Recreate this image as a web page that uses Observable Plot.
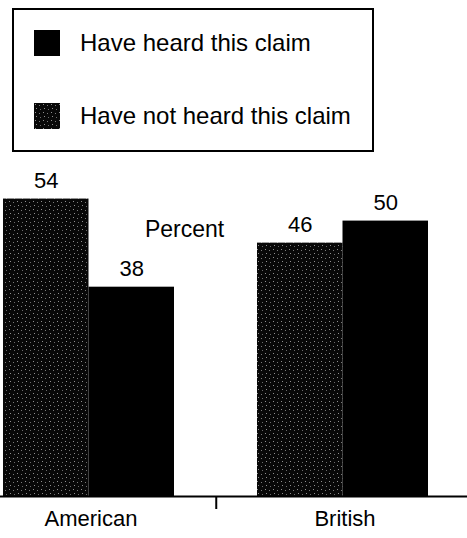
<!DOCTYPE html>
<html>
<head>
<meta charset="utf-8">
<script src="https://cdn.jsdelivr.net/npm/d3@7"></script>
<script src="https://cdn.jsdelivr.net/npm/@observablehq/plot@0.6"></script>
<style>
  html, body { margin: 0; padding: 0; background: #fff; }
  body { width: 467px; height: 538px; position: relative; overflow: hidden;
         font-family: "Liberation Sans", Arial, sans-serif; color: #000; }
  #legend { position: absolute; left: 12px; top: 8px; width: 358px; height: 140px;
            border: 2px solid #000; box-sizing: content-box; }
  .item { position: absolute; left: 20px; display: flex; align-items: center; font-size: 24px; }
  .sw { width: 26px; height: 26px; margin-right: 20px; display: block; }
  #chart { position: absolute; left: 0; top: 160px; }
</style>
</head>
<body>
<svg width="0" height="0" style="position:absolute">
  <defs>
    <pattern id="speckle" patternUnits="userSpaceOnUse" width="8" height="8">
      <rect width="8" height="8" fill="#080808"/>
      <rect x="1" y="1" width="1" height="1" fill="#8f8f8f"/>
      <rect x="5" y="2" width="1" height="1" fill="#7a7a7a"/>
      <rect x="2" y="5" width="1" height="1" fill="#909090"/>
      <rect x="6" y="6" width="1" height="1" fill="#6a6a6a"/>
    </pattern>
  </defs>
</svg>
<div id="legend"></div>
<div id="chart"></div>
<script>
const countries = ["American", "British"];
const seriesNames = ["Have heard this claim", "Have not heard this claim"];
const heard = [38, 50];
const notHeard = [54, 46];
const yLabel = "Percent";

const colors = {"Have heard this claim": "#000", "Have not heard this claim": "url(#speckle)"};

const rows = [];
countries.forEach((c, i) => {
  rows.push({country: c, series: seriesNames[1], value: notHeard[i], side: "left"});
  rows.push({country: c, series: seriesNames[0], value: heard[i], side: "right"});
});
const leftRows = rows.filter(d => d.side === "left");
const rightRows = rows.filter(d => d.side === "right");

// legend
const legend = document.getElementById("legend");
seriesNames.forEach((s, i) => {
  const it = document.createElement("div");
  it.className = "item";
  it.style.top = (i === 0 ? 19 : 92) + "px";
  const ns = "http://www.w3.org/2000/svg";
  const sw = document.createElementNS(ns, "svg");
  sw.setAttribute("class", "sw");
  sw.setAttribute("width", 26);
  sw.setAttribute("height", 26);
  const r = document.createElementNS(ns, "rect");
  r.setAttribute("width", 26);
  r.setAttribute("height", 26);
  r.setAttribute("fill", colors[s]);
  sw.appendChild(r);
  it.appendChild(sw);
  const t = document.createElement("span");
  t.textContent = s;
  it.appendChild(t);
  legend.appendChild(it);
});

const half = 85.5;
const fs = 22;
const plot = Plot.plot({
  width: 467,
  height: 378,
  marginLeft: 0,
  marginRight: 0,
  marginTop: 0,
  marginBottom: 42,
  style: {fontFamily: "'Liberation Sans', Arial, sans-serif", fontSize: fs + "px", background: "transparent"},
  x: {type: "band", domain: countries, paddingInner: 0.328, paddingOuter: 0.0814, align: 0.072, label: null},
  y: {domain: [0, 61], axis: null},
  marks: [
    Plot.barY(leftRows, {x: "country", y: "value", fill: d => colors[d.series], insetRight: half}),
    Plot.barY(rightRows, {x: "country", y: "value", fill: d => colors[d.series], insetLeft: half}),
    Plot.text(leftRows, {x: "country", y: "value", text: d => String(d.value), dx: -half / 2, dy: -18, fontSize: fs, fill: "#000"}),
    Plot.text(rightRows, {x: "country", y: "value", text: d => String(d.value), dx: half / 2, dy: -18, fontSize: fs, fill: "#000"}),
    Plot.text([yLabel], {frameAnchor: "top-left", lineAnchor: "middle", text: d => d, dx: 184, dy: 69, fontSize: 23, textAnchor: "middle", fill: "#000"}),
    Plot.ruleY([0], {stroke: "#000", strokeWidth: 2}),
    Plot.axisX({ticks: [countries[0]], tickSize: 13, tickFormat: () => "", dx: 127.25, strokeWidth: 2, stroke: "#000"}),
    Plot.axisX({tickSize: 0, tickPadding: 14, fontSize: fs, fill: "#000", dx: 2})
  ]
});

document.getElementById("chart").appendChild(plot);
</script>
</body>
</html>
